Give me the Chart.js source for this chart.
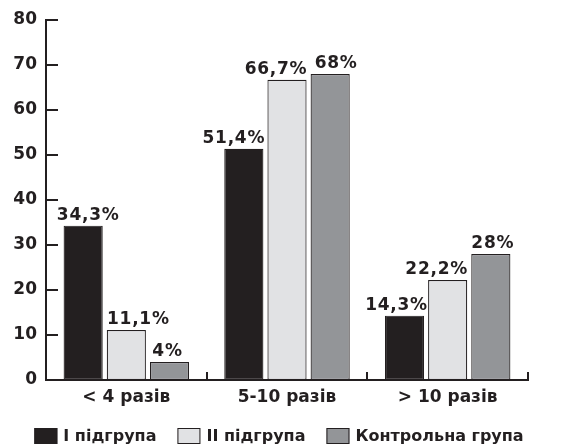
<!DOCTYPE html>
<html lang="uk">
<head>
<meta charset="utf-8">
<title>Частота</title>
<script src="https://cdn.jsdelivr.net/npm/chart.js@4/dist/chart.umd.min.js"></script>
<style>
  html, body { margin: 0; padding: 0; background: #ffffff; }
  #wrap { width: 566px; height: 448px; }
</style>
</head>
<body>
<div id="wrap"><canvas id="chart" width="566" height="448"></canvas></div>
<script>
// Categories (x axis)
const categories = ['< 4 разів', '5-10 разів', '> 10 разів'];

// Series labels
const seriesNames = ['І підгрупа', 'ІІ підгрупа', 'Контрольна група'];

// Series values, %
const group1 = [34.3, 51.4, 14.3];
const group2 = [11.1, 66.7, 22.2];
const control = [4, 68, 28];

// Y axis ticks
const yTicks = [0, 10, 20, 30, 40, 50, 60, 70, 80];

const INK = '#231f20';
const FONT = 'DejaVu Sans';
const fills = ['#231f20', '#e1e2e4', '#939598'];

// horizontal nudges of the value labels so neighbours do not collide
const labelShift = [[5, -10, -8], [12, -11, -11], [-2, 6, 2]];

const fmt = v => String(v).replace('.', ',') + '%';

// inward tick marks on both axes
const innerTicks = {
  id: 'innerTicks',
  afterDraw(chart) {
    const { ctx, chartArea, scales } = chart;
    ctx.save();
    ctx.strokeStyle = INK;
    ctx.lineWidth = 2;
    ctx.beginPath();
    scales.y.ticks.forEach(t => {
      const py = Math.round(scales.y.getPixelForValue(t.value));
      ctx.moveTo(chartArea.left, py);
      ctx.lineTo(chartArea.left + 12, py);
    });
    const step = scales.x.getPixelForValue(1) - scales.x.getPixelForValue(0);
    for (let i = 1; i <= categories.length; i++) {
      const px = Math.round(scales.x.getPixelForValue(i) - step / 2);
      ctx.moveTo(px, chartArea.bottom);
      ctx.lineTo(px, chartArea.bottom - 8);
    }
    ctx.stroke();
    ctx.restore();
  }
};

// value labels above bars
const valueLabels = {
  id: 'valueLabels',
  afterDatasetsDraw(chart) {
    const { ctx } = chart;
    ctx.save();
    ctx.font = `bold 17px "${FONT}"`;
    ctx.letterSpacing = '0.75px';
    ctx.fillStyle = INK;
    ctx.textAlign = 'center';
    ctx.textBaseline = 'alphabetic';
    chart.data.datasets.forEach((ds, di) => {
      chart.getDatasetMeta(di).data.forEach((bar, i) => {
        ctx.fillText(fmt(ds.data[i]), bar.x + labelShift[di][i], bar.y - 6);
      });
    });
    ctx.restore();
  }
};

// legend row under the axis
const legendRow = {
  id: 'legendRow',
  afterDraw(chart) {
    const { ctx } = chart;
    ctx.save();
    ctx.font = `bold 16px "${FONT}"`;
    ctx.textBaseline = 'middle';
    ctx.textAlign = 'left';
    const boxW = 23, boxH = 16, gapBox = 6, gapItem = 21, cy = 436;
    const widths = chart.data.datasets.map(ds => boxW + gapBox + ctx.measureText(ds.label).width);
    const total = widths.reduce((a, b) => a + b, 0) + gapItem * (widths.length - 1);
    let x = 279 - total / 2;
    chart.data.datasets.forEach((ds, i) => {
      ctx.fillStyle = ds.backgroundColor;
      ctx.fillRect(x, cy - boxH / 2, boxW, boxH);
      ctx.strokeStyle = INK;
      ctx.lineWidth = 1;
      ctx.strokeRect(x + 0.5, cy - boxH / 2 + 0.5, boxW - 1, boxH - 1);
      ctx.fillStyle = INK;
      ctx.fillText(ds.label, x + boxW + gapBox, cy + 1);
      x += widths[i] + gapItem;
    });
    ctx.restore();
  }
};

const seriesValues = [group1, group2, control];

new Chart(document.getElementById('chart'), {
  type: 'bar',
  data: {
    labels: categories,
    datasets: seriesNames.map((name, i) => ({
      label: name,
      data: seriesValues[i],
      backgroundColor: fills[i],
      borderColor: INK,
      borderWidth: 1.2,
      borderSkipped: false,
      categoryPercentage: 0.806,
      barPercentage: 0.907
    }))
  },
  options: {
    responsive: false,
    animation: false,
    devicePixelRatio: 1,
    layout: { padding: { top: 20, right: 38, bottom: 28, left: 0 } },
    plugins: {
      legend: { display: false },
      tooltip: { enabled: false }
    },
    scales: {
      x: {
        grid: { display: false, drawTicks: false },
        border: { display: true, color: INK, width: 2 },
        ticks: {
          color: INK,
          padding: 7,
          maxRotation: 0,
          font: { family: FONT, size: 17, weight: 'bold' }
        },
        afterFit(scale) { scale.height = 40; }
      },
      y: {
        min: 0,
        max: 80,
        afterBuildTicks(scale) { scale.ticks = yTicks.map(v => ({ value: v })); },
        grid: { display: false, drawTicks: false },
        border: { display: true, color: INK, width: 2 },
        ticks: {
          color: INK,
          padding: 9,
          font: { family: FONT, size: 17, weight: 'bold' }
        },
        afterFit(scale) { scale.width = 46; }
      }
    }
  },
  plugins: [innerTicks, valueLabels, legendRow]
});
</script>
</body>
</html>
